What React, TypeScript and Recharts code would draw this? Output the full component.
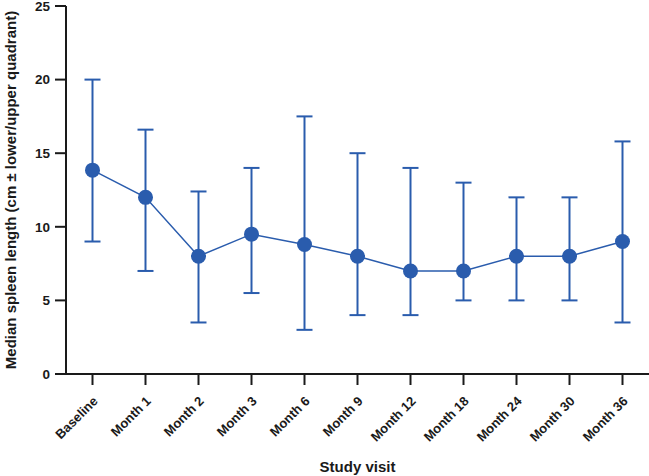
import React from 'react';
import { LineChart, Line, XAxis, YAxis, ErrorBar, Label } from 'recharts';

const visits = ['Baseline', 'Month 1', 'Month 2', 'Month 3', 'Month 6', 'Month 9', 'Month 12', 'Month 18', 'Month 24', 'Month 30', 'Month 36'];
const medians = [13.85, 12, 8, 9.5, 8.8, 8, 7, 7, 8, 8, 9];
const lowerQ = [9, 7, 3.5, 5.5, 3, 4, 4, 5, 5, 5, 3.5];
const upperQ = [20, 16.6, 12.4, 14, 17.5, 15, 14, 13, 12, 12, 15.8];
const yTicks = [0, 5, 10, 15, 20, 25];

const BLUE = '#2a5cad';
const INK = '#1a1a1a';
const FONT = '"Liberation Sans", Arial, Helvetica, sans-serif';

const data = visits.map((v, i) => ({
  visit: v,
  median: medians[i],
  err: [medians[i] - lowerQ[i], upperQ[i] - medians[i]],
}));

const XTick = (props: any) => {
  const { x, y, payload } = props;
  return (
    <g transform={`translate(${x + 6},${y + 15})`}>
      <text
        x={0}
        y={0}
        textAnchor="end"
        transform="rotate(-45)"
        fontSize={13}
        fontWeight="bold"
        fill={INK}
        fontFamily={FONT}
      >
        {payload.value}
      </text>
    </g>
  );
};

const YLabel = (props: any) => {
  const vb = props.viewBox || {};
  const cx = 10;
  const cy = vb.y + vb.height / 2;
  return (
    <text
      x={cx}
      y={cy}
      textAnchor="middle"
      dominantBaseline="central"
      transform={`rotate(-90, ${cx}, ${cy})`}
      fontSize={15}
      fontWeight="bold"
      fill={INK}
      fontFamily={FONT}
    >
      Median spleen length (cm ± lower/upper quadrant)
    </text>
  );
};

export default function App() {
  return (
    <div style={{ position: 'absolute', left: 0, top: 0, width: 649, height: 476, background: '#fff', fontFamily: FONT }}>
      <LineChart width={649} height={476} data={data} margin={{ top: 6, right: 0, left: 0, bottom: 0 }}>
        <XAxis
          dataKey="visit"
          type="category"
          padding={{ left: 26.5, right: 26.5 }}
          interval={0}
          tickSize={11}
          tickLine={{ stroke: INK, strokeWidth: 2 }}
          axisLine={{ stroke: INK, strokeWidth: 2 }}
          tick={<XTick />}
          height={102}
        >
          <Label
            value="Study visit"
            position="insideBottom"
            offset={4}
            style={{ fontSize: 15, fontWeight: 'bold', fill: INK, fontFamily: FONT }}
          />
        </XAxis>
        <YAxis
          type="number"
          domain={[0, 25]}
          ticks={yTicks}
          interval={0}
          width={66}
          tickSize={11}
          tickMargin={5}
          tickLine={{ stroke: INK, strokeWidth: 2 }}
          axisLine={{ stroke: INK, strokeWidth: 2 }}
          tick={{ fontSize: 13.5, fontWeight: 'bold', fill: INK, fontFamily: FONT }}
        >
          <Label content={<YLabel />} />
        </YAxis>
        <Line
          dataKey="median"
          stroke={BLUE}
          strokeWidth={1.5}
          dot={{ r: 7.5, fill: BLUE, stroke: BLUE, strokeWidth: 0 }}
          activeDot={false}
          isAnimationActive={false}
        >
          <ErrorBar dataKey="err" direction="y" width={8} stroke={BLUE} strokeWidth={2} isAnimationActive={false} />
        </Line>
      </LineChart>
    </div>
  );
}
